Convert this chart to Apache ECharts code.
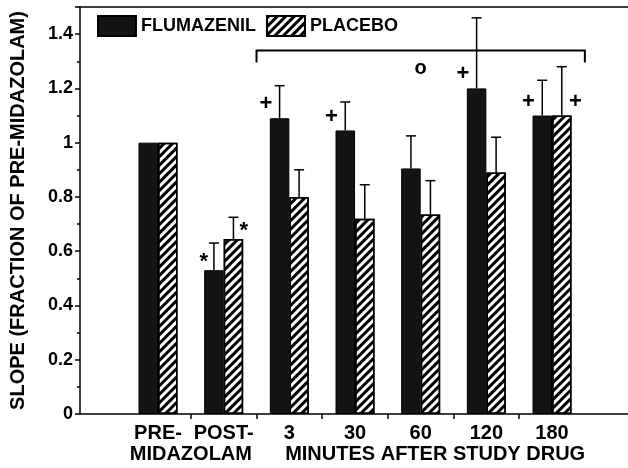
<!DOCTYPE html>
<html>
<head>
<meta charset="utf-8">
<script src="https://cdn.jsdelivr.net/npm/echarts@6/dist/echarts.min.js"></script>
<style>
html, body { margin: 0; padding: 0; background: #fff; }
#main { width: 628px; height: 468px; }
</style>
</head>
<body>
<div id="main"></div>
<script>
var categories = ['PRE-', 'POST-', '3', '30', '60', '120', '180'];
var flumazenil = [1.0, 0.53, 1.09, 1.045, 0.905, 1.2, 1.1];
var flumazenilErr = [0, 0.10, 0.12, 0.105, 0.12, 0.26, 0.13];
var placebo = [1.0, 0.645, 0.80, 0.72, 0.735, 0.89, 1.1];
var placeboErr = [0, 0.08, 0.10, 0.125, 0.125, 0.13, 0.18];
var flumazenilMarks = ['', '*', '+', '+', '', '+', '+'];
var placeboMarks = ['', '*', '', '', '', '', '+'];
var groupLabels = ['MIDAZOLAM', 'MINUTES AFTER STUDY DRUG'];
var groupAt = [2.0, 5.72];
var bracketFrom = 2, bracketTo = 6, bracketLevel = 1.34, bracketDrop = 0.045;
var circleAt = 4, circleLevel = 1.275;

var font = '"Liberation Sans", Arial, sans-serif';
var barW = 19.5;
var xMin = 0.312, xMax = 8.657;
// category i sits at i + 1.5 on the value axis
function slot(i) { return i + 1.5; }
var markOffset = { '+': [23.5, -14], '*': [20, -8] };

function pairs(vals) {
	return vals.map(function (v, i) { return [slot(i), v]; });
}

function errorSeries(means, errs, marks, side) {
	return {
		type: 'custom',
		silent: true,
		z: 5,
		xAxisIndex: 0,
		yAxisIndex: 0,
		data: means.map(function (v, i) { return [slot(i), v, errs[i]]; }),
		renderItem: function (params, api) {
			var i = params.dataIndex;
			var base = api.coord([api.value(0), api.value(1)]);
			var top = api.coord([api.value(0), api.value(1) + api.value(2)]);
			var cx = base[0] + side * barW / 2;
			var children = [];
			if (api.value(2) > 0) {
				children.push({ type: 'line', shape: { x1: cx, y1: base[1], x2: cx, y2: top[1] }, style: { stroke: '#000', lineWidth: 1.5 } });
				children.push({ type: 'line', shape: { x1: cx - 5, y1: top[1], x2: cx + 5, y2: top[1] }, style: { stroke: '#000', lineWidth: 1.5 } });
			}
			var m = marks[i];
			if (m) {
				var off = markOffset[m];
				children.push({
					type: 'text',
					x: base[0] + side * off[0],
					y: base[1] + off[1],
					style: { text: m, font: 'bold 22px ' + font, fill: '#000', align: 'center', verticalAlign: 'middle' }
				});
			}
			return { type: 'group', children: children };
		}
	};
}

var chart = echarts.init(document.getElementById('main'));
chart.setOption({
	animation: false,
	backgroundColor: '#fff',
	grid: { left: 80, right: 0, top: 7, bottom: 54 },
	legend: {
		data: ['FLUMAZENIL', 'PLACEBO'],
		left: 97,
		top: 15,
		padding: 0,
		icon: 'rect',
		itemWidth: 38,
		itemHeight: 20,
		itemGap: 10,
		textStyle: { fontFamily: font, fontWeight: 'bold', fontSize: 18, color: '#000' }
	},
	xAxis: [
		{
			type: 'value', position: 'bottom', min: xMin, max: xMax,
			splitLine: { show: false },
			axisLine: { lineStyle: { color: '#000', width: 1.5 } },
			axisTick: { customValues: [2, 3, 4, 5, 6, 7], length: 5, lineStyle: { color: '#000', width: 1.5 } },
			axisLabel: {
				customValues: categories.map(function (c, i) { return slot(i); }),
				formatter: function (v) { return categories[Math.round(v - 1.5)]; },
				margin: 9, color: '#000', fontFamily: font, fontWeight: 'bold', fontSize: 20
			}
		},
		{
			type: 'value', position: 'bottom', offset: 21, min: xMin, max: xMax,
			splitLine: { show: false },
			axisLine: { show: false },
			axisTick: { show: false },
			axisLabel: {
				customValues: groupAt,
				formatter: function (v) { return groupLabels[groupAt.indexOf(v)]; },
				margin: 9, color: '#000', fontFamily: font, fontWeight: 'bold', fontSize: 20
			}
		},
		{
			type: 'value', position: 'top', min: xMin, max: xMax,
			splitLine: { show: false },
			axisLine: { lineStyle: { color: '#000', width: 1.5 } },
			axisTick: { show: false },
			axisLabel: { show: false }
		}
	],
	yAxis: {
		type: 'value', min: 0, max: 1.5, interval: 0.2,
		name: 'SLOPE (FRACTION OF PRE-MIDAZOLAM)',
		nameLocation: 'middle',
		nameGap: 52,
		nameTextStyle: { fontFamily: font, fontWeight: 'bold', fontSize: 20, color: '#000' },
		splitLine: { show: false },
		axisLine: { show: true, lineStyle: { color: '#000', width: 1.5 } },
		axisTick: { show: true, length: 5, lineStyle: { color: '#000', width: 1.5 } },
		minorTick: { show: true, splitNumber: 2, length: 3, lineStyle: { color: '#000', width: 1.5 } },
		axisLabel: { showMaxLabel: false, margin: 7, color: '#000', fontFamily: font, fontWeight: 'bold', fontSize: 18 }
	},
	series: [
		{
			name: 'FLUMAZENIL', type: 'bar', xAxisIndex: 0, barWidth: barW, barGap: '0%',
			itemStyle: { color: '#141414', borderColor: '#000', borderWidth: 1 },
			data: pairs(flumazenil)
		},
		{
			name: 'PLACEBO', type: 'bar', xAxisIndex: 0, barWidth: barW, barGap: '0%',
			itemStyle: {
				color: '#fff', borderColor: '#000', borderWidth: 1.5,
				decal: { symbol: 'rect', color: '#000', dashArrayX: [1, 0], dashArrayY: [2.4, 2.4], rotation: -Math.PI / 4 }
			},
			data: pairs(placebo)
		},
		errorSeries(flumazenil, flumazenilErr, flumazenilMarks, -1),
		errorSeries(placebo, placeboErr, placeboMarks, 1),
		{
			type: 'custom', silent: true, z: 5, xAxisIndex: 0, yAxisIndex: 0,
			encode: { x: [0, 1], y: 2 },
			data: [[slot(bracketFrom) - 0.5, slot(bracketTo) + 0.5, bracketLevel]],
			renderItem: function (params, api) {
				var a = api.coord([api.value(0), api.value(2)]);
				var b = api.coord([api.value(1), api.value(2)]);
				var low = api.coord([api.value(0), api.value(2) - bracketDrop]);
				var c = api.coord([slot(circleAt), circleLevel]);
				return {
					type: 'group',
					children: [
						{ type: 'polyline', shape: { points: [[a[0], low[1]], a, b, [b[0], low[1]]] }, style: { stroke: '#000', lineWidth: 2, fill: null } },
						{ type: 'text', x: c[0], y: c[1], style: { text: 'o', font: 'bold 20px ' + font, fill: '#000', align: 'center', verticalAlign: 'middle' } }
					]
				};
			}
		}
	]
});
</script>
</body>
</html>
